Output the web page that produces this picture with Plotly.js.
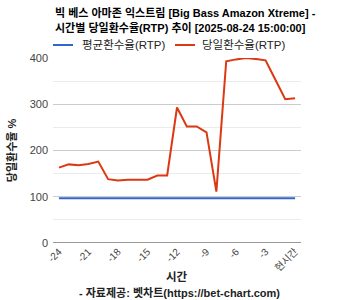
<!DOCTYPE html>
<html><head><meta charset="utf-8">
<script src="https://cdn.plot.ly/plotly-3.0.1.min.js"></script>
<style>html,body{margin:0;padding:0;background:#fff}#c{width:354px;height:300px}</style>
</head><body><div id="c"></div>
<script>
const hours = [-24,-23,-22,-21,-20,-19,-18,-17,-16,-15,-14,-13,-12,-11,-10,-9,-8,-7,-6,-5,-4,-3,-2,-1,0];
const avgRtp = [97,97,97,97,97,97,97,97,97,97,97,97,97,97,97,97,97,97,97,97,97,97,97,97,97];
const dailyRtp = [163,170,168,171,176,138,135,137,137,137,146,146,293,252,252,239,111,393,397,400,398,395,353,311,313];
const tickVals = [-24,-21,-18,-15,-12,-9,-6,-3,0];
const tickText = ['-24','-21','-18','-15','-12','-9','-6','-3','현시간'];
const seriesNames = ['평균환수율(RTP)','당일환수율(RTP)'];
const seriesColors = ['#3366cc','#dc3912'];
const titleLines = ['빅 베스 아마존 익스트림 [Big Bass Amazon Xtreme] -','시간별 당일환수율(RTP) 추이 [2025-08-24 15:00:00]'];
const F = "Arial, 'Liberation Sans', 'Noto Sans CJK KR', sans-serif";

const plotTop = 58, plotBottom = 242.7, plotH = plotBottom - plotTop, plotLeft = 53, plotW = 248;
const py = p => (plotBottom - p) / plotH;      // pixel y -> paper y
const px = p => (p - plotLeft) / plotW;        // pixel x -> paper x

const data = [
  {x: hours, y: avgRtp, name: seriesNames[0], type:'scatter', mode:'lines', line:{color:seriesColors[0], width:2}},
  {x: hours, y: dailyRtp, name: seriesNames[1], type:'scatter', mode:'lines', line:{color:seriesColors[1], width:2}}
];

const legendX = [[53,73,80],[175,195,200]];
const shapes = [{type:'line', xref:'paper', yref:'y', x0:0, x1:1, y0:0, y1:0, line:{color:'#333', width:1}}];
const annotations = [];
titleLines.forEach((t,i)=>annotations.push({text:'<b>'+t+'</b>', xref:'paper', yref:'paper', x:px(53), xanchor:'left',
  y:py(13+14.5*i), yanchor:'middle', showarrow:false, font:{family:F, size:11, color:'#000'}}));
seriesNames.forEach((n,i)=>{
  shapes.push({type:'line', xref:'paper', yref:'paper', x0:px(legendX[i][0]), x1:px(legendX[i][1]), y0:py(45), y1:py(45),
    line:{color:seriesColors[i], width:2}});
  annotations.push({text:n, xref:'paper', yref:'paper', x:px(legendX[i][2]), xanchor:'left', y:py(45), yanchor:'middle',
    showarrow:false, font:{family:F, size:11.5, color:'#222'}});
});
annotations.push({text:'<b>시간</b>', xref:'paper', yref:'paper', x:px(177), xanchor:'center', y:py(277), yanchor:'middle',
  showarrow:false, font:{family:F, size:11.5, color:'#222'}});
annotations.push({text:'<b>- 자료제공: 벳차트(https://bet-chart.com)</b>', xref:'paper', yref:'paper', x:px(179), xanchor:'center',
  y:py(292), yanchor:'middle', showarrow:false, font:{family:F, size:11, color:'#222'}});

const layout = {
  width:354, height:300,
  margin:{l:53, r:53, t:58, b:57.3},
  paper_bgcolor:'#fff', plot_bgcolor:'#fff',
  font:{family:F, size:11, color:'#222'},
  showlegend:false,
  xaxis:{range:[-24.6,0.6], tickvals:tickVals, ticktext:tickText, tickangle:-45,
    showgrid:false, zeroline:false, showline:false, ticks:'',
    tickfont:{family:F, size:10, color:'#444'}},
  yaxis:{range:[0,400], tickvals:[0,100,200,300,400], showgrid:true, gridcolor:'#cccccc', zeroline:false,
    showline:false, ticks:'', ticklabelstandoff:4, tickfont:{family:F, size:11, color:'#444'},
    minor:{showgrid:true, gridcolor:'#ebebeb', tickvals:[50,150,250,350]},
    title:{text:'<b>당일환수율 %</b>', font:{family:F, size:11, color:'#222'}, standoff:10}},
  shapes: shapes,
  annotations: annotations
};
Plotly.newPlot('c', data, layout, {displayModeBar:false, staticPlot:true});
</script></body></html>
